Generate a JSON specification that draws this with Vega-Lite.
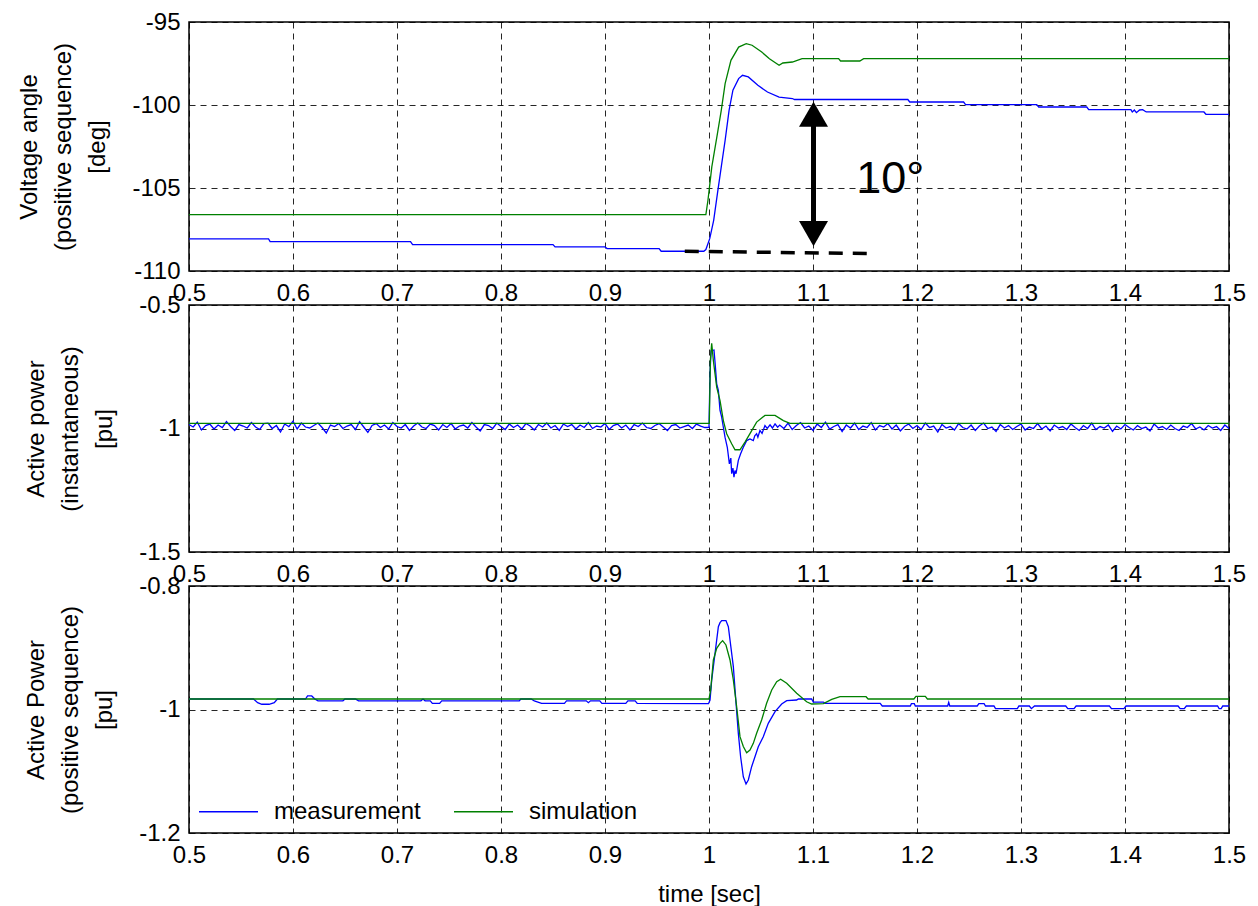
{
  "$schema": "https://vega.github.io/schema/vega-lite/v6.json",
  "padding": {"left": 17, "top": 9, "right": 20, "bottom": 0},
  "bounds": "flush",
  "spacing": 34,
  "config": {
    "view": {"stroke": "#000", "strokeWidth": 1.5},
    "font": "Liberation Sans",
    "axis": {
      "labelFont": "Liberation Sans", "labelFontSize": 24, "labelColor": "#000",
      "titleFont": "Liberation Sans", "titleFontSize": 24, "titleFontWeight": "normal", "titleColor": "#000",
      "domain": false, "ticks": false, "gridColor": "#000", "gridDash": [6, 5], "gridWidth": 1, "gridOpacity": 0.85,
      "labelPadding": 9, "labelFlush": false, "labelOverlap": false, "labelBound": false,
      "labelExpr": "replace(format(datum.value, '.1~f'), '\u2212', '-')"
    },
    "axisX": {"labelPadding": 10},
    "axisY": {"titleLineHeight": 34, "titlePadding": 22}
  },
  "resolve": {"scale": {"color": "independent"}, "legend": {"color": "independent"}},
  "datasets": {
    "p1m": [
      {"t":0.5,"v":-108.07},{"t":0.5765,"v":-108.07},{"t":0.578,"v":-108.23},{"t":0.713,"v":-108.23},{"t":0.715,"v":-108.41},
      {"t":0.85,"v":-108.41},{"t":0.852,"v":-108.55},{"t":0.9,"v":-108.55},{"t":0.902,"v":-108.65},{"t":0.952,"v":-108.65},
      {"t":0.954,"v":-108.81},{"t":0.995,"v":-108.81},{"t":0.997,"v":-108.71},{"t":1.0007,"v":-108.05},{"t":1.0045,"v":-106.95},
      {"t":1.0081,"v":-105.34},{"t":1.0118,"v":-103.73},{"t":1.0155,"v":-102.13},{"t":1.0193,"v":-100.32},{"t":1.023,"v":-99.11},
      {"t":1.0285,"v":-98.41},{"t":1.0322,"v":-98.21},{"t":1.0378,"v":-98.31},{"t":1.047,"v":-98.81},{"t":1.0562,"v":-99.22},
      {"t":1.0674,"v":-99.52},{"t":1.0802,"v":-99.61},{"t":1.0822,"v":-99.67},{"t":1.1912,"v":-99.67},{"t":1.193,"v":-99.82},
      {"t":1.2448,"v":-99.82},{"t":1.2467,"v":-99.98},{"t":1.3151,"v":-99.98},{"t":1.317,"v":-100.12},{"t":1.3632,"v":-100.12},
      {"t":1.3651,"v":-100.28},{"t":1.4057,"v":-100.28},{"t":1.407,"v":-100.42},{"t":1.409,"v":-100.3},{"t":1.411,"v":-100.46},
      {"t":1.414,"v":-100.3},{"t":1.417,"v":-100.28},{"t":1.4204,"v":-100.42},{"t":1.4759,"v":-100.42},{"t":1.4778,"v":-100.56},
      {"t":1.5,"v":-100.56}
    ],
    "p1s": [
      {"t":0.5,"v":-106.6},{"t":0.997,"v":-106.6},{"t":0.999,"v":-105.74},{"t":1.0027,"v":-103.73},{"t":1.0081,"v":-101.72},
      {"t":1.0118,"v":-100.32},{"t":1.0155,"v":-98.71},{"t":1.0211,"v":-97.31},{"t":1.0285,"v":-96.51},{"t":1.0358,"v":-96.3},
      {"t":1.0414,"v":-96.4},{"t":1.0507,"v":-96.81},{"t":1.0581,"v":-97.21},{"t":1.0674,"v":-97.61},{"t":1.071,"v":-97.47},
      {"t":1.0802,"v":-97.41},{"t":1.0895,"v":-97.21},{"t":1.1246,"v":-97.21},{"t":1.1265,"v":-97.35},{"t":1.145,"v":-97.35},
      {"t":1.1487,"v":-97.21},{"t":1.5,"v":-97.21}
    ],
    "p1dash": [{"t":0.9767,"v":-108.81,"t2":1.1543,"v2":-108.95}],
    "p1shaft": [{"t":1.1005,"v":-100.8,"v2":-107.5}],
    "p1up": [{"t":1.1005,"v":-100.56}],
    "p1down": [{"t":1.1005,"v":-107.75}],
    "p1text": [{"t":1.1743,"v":-105.3,"label":"10°"}],
    "p2m": [
      {"t":0.5,"v":-0.984},{"t":0.504,"v":-0.994},{"t":0.508,"v":-0.974},{"t":0.512,"v":-1.006},{"t":0.516,"v":-0.988},
      {"t":0.52,"v":-0.982},{"t":0.524,"v":-1.002},{"t":0.528,"v":-0.986},{"t":0.532,"v":-0.996},{"t":0.536,"v":-0.972},
      {"t":0.54,"v":-0.992},{"t":0.544,"v":-1.008},{"t":0.548,"v":-0.984},{"t":0.552,"v":-0.99},{"t":0.556,"v":-0.998},
      {"t":0.56,"v":-0.976},{"t":0.564,"v":-0.994},{"t":0.568,"v":-1.004},{"t":0.572,"v":-0.98},{"t":0.576,"v":-0.978},
      {"t":0.58,"v":-1.0},{"t":0.584,"v":-0.988},{"t":0.588,"v":-1.014},{"t":0.592,"v":-0.982},{"t":0.596,"v":-0.992},
      {"t":0.6,"v":-0.97},{"t":0.604,"v":-1.002},{"t":0.608,"v":-0.978},{"t":0.612,"v":-0.994},{"t":0.616,"v":-0.998},
      {"t":0.62,"v":-0.988},{"t":0.624,"v":-0.978},{"t":0.628,"v":-0.996},{"t":0.632,"v":-1.018},{"t":0.636,"v":-0.986},
      {"t":0.64,"v":-0.992},{"t":0.644,"v":-0.98},{"t":0.648,"v":-1.0},{"t":0.652,"v":-0.99},{"t":0.656,"v":-0.984},
      {"t":0.66,"v":-1.004},{"t":0.664,"v":-0.972},{"t":0.668,"v":-0.994},{"t":0.672,"v":-1.016},{"t":0.676,"v":-0.988},
      {"t":0.68,"v":-0.98},{"t":0.684,"v":-0.996},{"t":0.688,"v":-0.986},{"t":0.692,"v":-1.002},{"t":0.696,"v":-0.976},
      {"t":0.7,"v":-0.992},{"t":0.704,"v":-0.998},{"t":0.708,"v":-0.984},{"t":0.712,"v":-1.008},{"t":0.716,"v":-0.99},
      {"t":0.72,"v":-0.978},{"t":0.724,"v":-0.994},{"t":0.728,"v":-1.0},{"t":0.732,"v":-0.982},{"t":0.736,"v":-0.988},
      {"t":0.74,"v":-1.006},{"t":0.744,"v":-0.984},{"t":0.748,"v":-0.996},{"t":0.752,"v":-0.98},{"t":0.756,"v":-1.002},
      {"t":0.76,"v":-0.99},{"t":0.764,"v":-0.986},{"t":0.768,"v":-0.998},{"t":0.772,"v":-0.976},{"t":0.776,"v":-0.994},
      {"t":0.78,"v":-1.01},{"t":0.784,"v":-0.984},{"t":0.788,"v":-0.988},{"t":0.792,"v":-1.0},{"t":0.796,"v":-0.978},
      {"t":0.8,"v":-0.992},{"t":0.804,"v":-1.004},{"t":0.808,"v":-0.982},{"t":0.812,"v":-0.996},{"t":0.816,"v":-0.986},
      {"t":0.82,"v":-1.002},{"t":0.824,"v":-0.98},{"t":0.828,"v":-0.99},{"t":0.832,"v":-1.006},{"t":0.836,"v":-0.984},
      {"t":0.84,"v":-0.994},{"t":0.844,"v":-0.978},{"t":0.848,"v":-0.998},{"t":0.852,"v":-0.988},{"t":0.856,"v":-1.008},
      {"t":0.86,"v":-0.982},{"t":0.864,"v":-0.992},{"t":0.868,"v":-0.984},{"t":0.872,"v":-1.002},{"t":0.876,"v":-0.986},
      {"t":0.88,"v":-0.996},{"t":0.884,"v":-0.976},{"t":0.888,"v":-1.0},{"t":0.892,"v":-0.99},{"t":0.896,"v":-0.994},
      {"t":0.9,"v":-0.98},{"t":0.904,"v":-1.004},{"t":0.908,"v":-0.988},{"t":0.912,"v":-0.982},{"t":0.916,"v":-0.998},
      {"t":0.92,"v":-0.986},{"t":0.924,"v":-1.006},{"t":0.928,"v":-0.984},{"t":0.932,"v":-0.992},{"t":0.936,"v":-0.978},
      {"t":0.94,"v":-0.996},{"t":0.944,"v":-1.0},{"t":0.948,"v":-0.988},{"t":0.952,"v":-0.98},{"t":0.956,"v":-0.994},
      {"t":0.96,"v":-1.008},{"t":0.964,"v":-0.988},{"t":0.968,"v":-0.984},{"t":0.972,"v":-0.998},{"t":0.976,"v":-0.992},
      {"t":0.98,"v":-0.986},{"t":0.984,"v":-1.0},{"t":0.988,"v":-0.982},{"t":0.992,"v":-0.99},{"t":0.996,"v":-0.996},
      {"t":1.0,"v":-0.995},{"t":1.001,"v":-0.772},{"t":1.002,"v":-0.685},{"t":1.0048,"v":-0.682},{"t":1.0058,"v":-0.732},
      {"t":1.0074,"v":-0.819},{"t":1.009,"v":-0.846},{"t":1.0106,"v":-0.927},{"t":1.0122,"v":-0.954},{"t":1.0138,"v":-0.995},
      {"t":1.0154,"v":-1.035},{"t":1.0176,"v":-1.076},{"t":1.0196,"v":-1.143},{"t":1.021,"v":-1.12},{"t":1.0218,"v":-1.183},
      {"t":1.023,"v":-1.16},{"t":1.024,"v":-1.197},{"t":1.025,"v":-1.17},{"t":1.026,"v":-1.183},{"t":1.0282,"v":-1.129},
      {"t":1.0304,"v":-1.102},{"t":1.033,"v":-1.076},{"t":1.0362,"v":-1.049},{"t":1.0394,"v":-1.042},{"t":1.0426,"v":-1.049},
      {"t":1.044,"v":-1.03},{"t":1.0458,"v":-1.021},{"t":1.047,"v":-1.035},{"t":1.049,"v":-1.008},{"t":1.051,"v":-1.02},
      {"t":1.0538,"v":-0.988},{"t":1.056,"v":-1.0},{"t":1.0587,"v":-0.985},{"t":1.061,"v":-0.998},{"t":1.0635,"v":-0.981},
      {"t":1.066,"v":-0.995},
      {"t":1.068,"v":-0.986},{"t":1.072,"v":-1.0},{"t":1.076,"v":-0.978},{"t":1.08,"v":-1.004},{"t":1.084,"v":-0.988},
      {"t":1.088,"v":-0.976},{"t":1.092,"v":-0.998},{"t":1.096,"v":-0.99},{"t":1.1,"v":-1.008},{"t":1.104,"v":-0.982},
      {"t":1.108,"v":-0.996},{"t":1.112,"v":-0.974},{"t":1.116,"v":-1.002},{"t":1.12,"v":-0.992},{"t":1.124,"v":-0.984},
      {"t":1.128,"v":-1.012},{"t":1.132,"v":-0.986},{"t":1.136,"v":-0.998},{"t":1.14,"v":-0.978},{"t":1.144,"v":-1.004},
      {"t":1.148,"v":-0.99},{"t":1.152,"v":-0.996},{"t":1.156,"v":-0.976},{"t":1.16,"v":-1.006},{"t":1.164,"v":-0.988},
      {"t":1.168,"v":-0.994},{"t":1.172,"v":-0.98},{"t":1.176,"v":-1.002},{"t":1.18,"v":-0.986},{"t":1.184,"v":-1.01},
      {"t":1.188,"v":-0.992},{"t":1.192,"v":-0.982},{"t":1.196,"v":-1.0},{"t":1.2,"v":-0.988},{"t":1.204,"v":-1.004},
      {"t":1.208,"v":-0.978},{"t":1.212,"v":-0.996},{"t":1.216,"v":-0.99},{"t":1.22,"v":-1.014},{"t":1.224,"v":-0.984},
      {"t":1.228,"v":-0.998},{"t":1.232,"v":-0.992},{"t":1.236,"v":-1.006},{"t":1.24,"v":-0.98},{"t":1.244,"v":-0.996},
      {"t":1.248,"v":-1.002},{"t":1.252,"v":-0.986},{"t":1.256,"v":-1.008},{"t":1.26,"v":-0.99},{"t":1.264,"v":-0.978},
      {"t":1.268,"v":-1.0},{"t":1.272,"v":-0.994},{"t":1.276,"v":-1.012},{"t":1.28,"v":-0.984},{"t":1.284,"v":-0.998},
      {"t":1.288,"v":-0.988},{"t":1.292,"v":-1.004},{"t":1.296,"v":-0.992},{"t":1.3,"v":-0.982},{"t":1.304,"v":-1.006},
      {"t":1.308,"v":-0.994},{"t":1.312,"v":-1.0},{"t":1.316,"v":-0.98},{"t":1.32,"v":-1.002},{"t":1.324,"v":-0.99},
      {"t":1.328,"v":-1.01},{"t":1.332,"v":-0.986},{"t":1.336,"v":-0.998},{"t":1.34,"v":-0.992},{"t":1.344,"v":-1.004},
      {"t":1.348,"v":-0.982},{"t":1.352,"v":-0.996},{"t":1.356,"v":-1.008},{"t":1.36,"v":-0.988},{"t":1.364,"v":-1.0},
      {"t":1.368,"v":-0.978},{"t":1.372,"v":-1.004},{"t":1.376,"v":-0.992},{"t":1.38,"v":-0.998},{"t":1.384,"v":-0.986},
      {"t":1.388,"v":-1.012},{"t":1.392,"v":-0.99},{"t":1.396,"v":-1.002},{"t":1.4,"v":-0.984},{"t":1.404,"v":-0.996},
      {"t":1.408,"v":-1.006},{"t":1.412,"v":-0.988},{"t":1.416,"v":-1.0},{"t":1.42,"v":-0.994},{"t":1.424,"v":-1.01},
      {"t":1.428,"v":-0.982},{"t":1.432,"v":-0.998},{"t":1.436,"v":-0.992},{"t":1.44,"v":-1.004},{"t":1.444,"v":-0.986},
      {"t":1.448,"v":-1.0},{"t":1.452,"v":-1.008},{"t":1.456,"v":-0.99},{"t":1.46,"v":-0.996},{"t":1.464,"v":-0.98},
      {"t":1.468,"v":-1.002},{"t":1.472,"v":-0.994},{"t":1.476,"v":-1.006},{"t":1.48,"v":-0.988},{"t":1.484,"v":-0.998},
      {"t":1.488,"v":-0.992},{"t":1.492,"v":-1.008},{"t":1.496,"v":-0.986},{"t":1.5,"v":-1.0}
    ],
    "p2s": [
      {"t":0.5,"v":-0.979},{"t":1.0003,"v":-0.979},{"t":1.0013,"v":-0.725},{"t":1.0026,"v":-0.655},{"t":1.0042,"v":-0.725},
      {"t":1.0074,"v":-0.833},{"t":1.0106,"v":-0.887},{"t":1.0138,"v":-0.968},{"t":1.017,"v":-1.021},{"t":1.0218,"v":-1.062},
      {"t":1.025,"v":-1.086},{"t":1.0298,"v":-1.086},{"t":1.0346,"v":-1.055},{"t":1.0394,"v":-1.021},{"t":1.0458,"v":-0.974},
      {"t":1.0538,"v":-0.947},{"t":1.0635,"v":-0.947},{"t":1.0715,"v":-0.968},{"t":1.0779,"v":-0.979},{"t":1.5,"v":-0.979}
    ],
    "p3m": [
      {"t":0.5,"v":-0.983},{"t":0.562,"v":-0.983},{"t":0.566,"v":-0.989},{"t":0.57,"v":-0.9915},{"t":0.577,"v":-0.9915},
      {"t":0.582,"v":-0.989},{"t":0.585,"v":-0.983},{"t":0.612,"v":-0.983},{"t":0.614,"v":-0.978},{"t":0.618,"v":-0.978},
      {"t":0.621,"v":-0.983},{"t":0.624,"v":-0.986},{"t":0.648,"v":-0.986},{"t":0.65,"v":-0.983},{"t":0.66,"v":-0.983},
      {"t":0.663,"v":-0.986},{"t":0.723,"v":-0.986},{"t":0.725,"v":-0.983},{"t":0.727,"v":-0.986},{"t":0.732,"v":-0.986},
      {"t":0.734,"v":-0.99},{"t":0.741,"v":-0.99},{"t":0.743,"v":-0.986},{"t":0.8176,"v":-0.986},{"t":0.819,"v":-0.983},
      {"t":0.829,"v":-0.983},{"t":0.832,"v":-0.986},{"t":0.839,"v":-0.99},{"t":0.861,"v":-0.99},{"t":0.863,"v":-0.986},
      {"t":0.882,"v":-0.986},{"t":0.884,"v":-0.989},{"t":0.886,"v":-0.986},{"t":0.895,"v":-0.986},{"t":0.897,"v":-0.99},
      {"t":0.92,"v":-0.99},{"t":0.922,"v":-0.986},{"t":0.929,"v":-0.986},{"t":0.931,"v":-0.99},{"t":0.9995,"v":-0.9906},
      {"t":1.001,"v":-0.9846},{"t":1.0026,"v":-0.9522},{"t":1.009,"v":-0.866},{"t":1.0106,"v":-0.8594},{"t":1.0122,"v":-0.856},
      {"t":1.0163,"v":-0.856},{"t":1.0186,"v":-0.866},{"t":1.0202,"v":-0.8875},{"t":1.0234,"v":-0.9306},{"t":1.026,"v":-0.99},
      {"t":1.0282,"v":-1.0386},{"t":1.0304,"v":-1.0765},{"t":1.033,"v":-1.1089},{"t":1.0356,"v":-1.1207},{"t":1.0378,"v":-1.1142},
      {"t":1.041,"v":-1.0926},{"t":1.0442,"v":-1.0765},{"t":1.0474,"v":-1.0603},{"t":1.0522,"v":-1.044},{"t":1.057,"v":-1.0224},
      {"t":1.0635,"v":-1.0035},{"t":1.0699,"v":-0.9911},{"t":1.0747,"v":-0.9857},{"t":1.0843,"v":-0.9846},{"t":1.0859,"v":-0.983},
      {"t":1.0987,"v":-0.983},{"t":1.1003,"v":-0.9879},{"t":1.11,"v":-0.9879},{"t":1.1115,"v":-0.99},{"t":1.1646,"v":-0.99},
      {"t":1.1666,"v":-0.9943},{"t":1.1936,"v":-0.9943},{"t":1.1946,"v":-0.9906},{"t":1.1974,"v":-0.9906},{"t":1.1984,"v":-0.9943},
      {"t":1.2295,"v":-0.9943},{"t":1.2305,"v":-0.9885},{"t":1.2315,"v":-0.9943},{"t":1.2579,"v":-0.9943},{"t":1.2595,"v":-0.9906},
      {"t":1.2645,"v":-0.9906},{"t":1.2659,"v":-0.9943},{"t":1.274,"v":-0.9943},{"t":1.2755,"v":-0.9986},{"t":1.2965,"v":-0.9986},
      {"t":1.298,"v":-0.9943},{"t":1.308,"v":-0.9943},{"t":1.31,"v":-0.9986},{"t":1.313,"v":-0.9943},{"t":1.343,"v":-0.9943},
      {"t":1.345,"v":-0.9986},{"t":1.351,"v":-0.9986},{"t":1.353,"v":-0.9943},{"t":1.385,"v":-0.9943},{"t":1.387,"v":-0.9986},
      {"t":1.399,"v":-0.9986},{"t":1.401,"v":-0.9943},{"t":1.451,"v":-0.9943},{"t":1.453,"v":-0.9986},{"t":1.457,"v":-0.9986},
      {"t":1.459,"v":-0.9943},{"t":1.489,"v":-0.9943},{"t":1.4905,"v":-0.9986},{"t":1.4925,"v":-0.9986},{"t":1.494,"v":-0.9943},
      {"t":1.5,"v":-0.9943}
    ],
    "p3s": [
      {"t":0.5,"v":-0.983},{"t":1.0,"v":-0.983},{"t":1.0016,"v":-0.9684},{"t":1.0042,"v":-0.9198},{"t":1.0074,"v":-0.901},
      {"t":1.0106,"v":-0.8928},{"t":1.0131,"v":-0.8885},{"t":1.0163,"v":-0.8955},{"t":1.0202,"v":-0.9198},{"t":1.0234,"v":-0.9522},
      {"t":1.0266,"v":-0.9955},{"t":1.0298,"v":-1.044},{"t":1.033,"v":-1.06},{"t":1.0362,"v":-1.07},{"t":1.0394,"v":-1.0656},
      {"t":1.0426,"v":-1.0548},{"t":1.0458,"v":-1.0386},{"t":1.0506,"v":-1.017},{"t":1.0554,"v":-0.99},{"t":1.0603,"v":-0.9684},
      {"t":1.0651,"v":-0.955},{"t":1.0689,"v":-0.951},{"t":1.0747,"v":-0.9576},{"t":1.0843,"v":-0.9738},{"t":1.0939,"v":-0.9874},
      {"t":1.0987,"v":-0.9911},{"t":1.11,"v":-0.9906},{"t":1.118,"v":-0.9835},{"t":1.126,"v":-0.9793},{"t":1.151,"v":-0.9793},
      {"t":1.153,"v":-0.983},{"t":1.197,"v":-0.983},{"t":1.199,"v":-0.9788},{"t":1.208,"v":-0.9788},{"t":1.21,"v":-0.983},
      {"t":1.5,"v":-0.983}
    ]
  },
  "vconcat": [
    {
      "width": 1040, "height": 249,
      "layer": [
        {
          "data": {"name": "p1m"},
          "mark": {"type": "line", "strokeWidth": 1.3},
          "encoding": {
            "x": {"field": "t", "type": "quantitative", "scale": {"domain": [0.5, 1.5], "nice": false, "zero": false},
                  "axis": {"values": [0.5,0.6,0.7,0.8,0.9,1,1.1,1.2,1.3,1.4,1.5], "title": null}},
            "y": {"field": "v", "type": "quantitative", "scale": {"domain": [-110, -95], "nice": false, "zero": false},
                  "axis": {"values": [-95,-100,-105,-110], "title": ["Voltage angle", "(positive sequence)", "[deg]"]}},
            "color": {"datum": "measurement", "scale": {"domain": ["measurement","simulation"], "range": ["#0000ff","#008000"]}, "legend": null}
          }
        },
        {
          "data": {"name": "p1s"},
          "mark": {"type": "line", "strokeWidth": 1.3},
          "encoding": {
            "x": {"field": "t", "type": "quantitative"},
            "y": {"field": "v", "type": "quantitative"},
            "color": {"datum": "simulation"}
          }
        },
        {
          "data": {"name": "p1dash"},
          "mark": {"type": "rule", "color": "#000", "strokeWidth": 3.5, "strokeDash": [14, 10]},
          "encoding": {
            "x": {"field": "t", "type": "quantitative"}, "x2": {"field": "t2"},
            "y": {"field": "v", "type": "quantitative"}, "y2": {"field": "v2"}
          }
        },
        {
          "data": {"name": "p1shaft"},
          "mark": {"type": "rule", "color": "#000", "strokeWidth": 5},
          "encoding": {
            "x": {"field": "t", "type": "quantitative"},
            "y": {"field": "v", "type": "quantitative"}, "y2": {"field": "v2"}
          }
        },
        {
          "data": {"name": "p1up"},
          "mark": {"type": "point", "shape": "triangle-up", "filled": true, "color": "#000", "size": 840, "opacity": 1},
          "encoding": {"x": {"field": "t", "type": "quantitative"}, "y": {"field": "v", "type": "quantitative"}}
        },
        {
          "data": {"name": "p1down"},
          "mark": {"type": "point", "shape": "triangle-down", "filled": true, "color": "#000", "size": 840, "opacity": 1},
          "encoding": {"x": {"field": "t", "type": "quantitative"}, "y": {"field": "v", "type": "quantitative"}}
        },
        {
          "data": {"name": "p1text"},
          "mark": {"type": "text", "font": "Liberation Sans", "fontSize": 45, "color": "#000", "align": "center", "baseline": "alphabetic"},
          "encoding": {"x": {"field": "t", "type": "quantitative"}, "y": {"field": "v", "type": "quantitative"}, "text": {"field": "label"}}
        }
      ]
    },
    {
      "width": 1040, "height": 247,
      "layer": [
        {
          "data": {"name": "p2m"},
          "mark": {"type": "line", "strokeWidth": 1.3},
          "encoding": {
            "x": {"field": "t", "type": "quantitative", "scale": {"domain": [0.5, 1.5], "nice": false, "zero": false},
                  "axis": {"values": [0.5,0.6,0.7,0.8,0.9,1,1.1,1.2,1.3,1.4,1.5], "title": null}},
            "y": {"field": "v", "type": "quantitative", "scale": {"domain": [-1.5, -0.5], "nice": false, "zero": false},
                  "axis": {"values": [-0.5,-1,-1.5], "title": ["Active power", "(instantaneous)", "[pu]"]}},
            "color": {"datum": "measurement", "scale": {"domain": ["measurement","simulation"], "range": ["#0000ff","#008000"]}, "legend": null}
          }
        },
        {
          "data": {"name": "p2s"},
          "mark": {"type": "line", "strokeWidth": 1.3},
          "encoding": {
            "x": {"field": "t", "type": "quantitative"},
            "y": {"field": "v", "type": "quantitative"},
            "color": {"datum": "simulation"}
          }
        }
      ]
    },
    {
      "width": 1040, "height": 247,
      "layer": [
        {
          "data": {"name": "p3m"},
          "mark": {"type": "line", "strokeWidth": 1.3},
          "encoding": {
            "x": {"field": "t", "type": "quantitative", "scale": {"domain": [0.5, 1.5], "nice": false, "zero": false},
                  "axis": {"values": [0.5,0.6,0.7,0.8,0.9,1,1.1,1.2,1.3,1.4,1.5], "title": "time [sec]", "titlePadding": 15}},
            "y": {"field": "v", "type": "quantitative", "scale": {"domain": [-1.2, -0.8], "nice": false, "zero": false},
                  "axis": {"values": [-0.8,-1,-1.2], "title": ["Active Power", "(positive sequence)", "[pu]"]}},
            "color": {"datum": "measurement", "scale": {"domain": ["measurement","simulation"], "range": ["#0000ff","#008000"]},
                      "legend": {"orient": "bottom-left", "direction": "horizontal", "title": null, "symbolType": "stroke",
                                 "symbolSize": 3481, "symbolStrokeWidth": 1.3, "labelFont": "Liberation Sans", "labelFontSize": 24,
                                 "labelColor": "#000", "labelOffset": 15, "columnPadding": 30, "offset": 9, "padding": 0, "labelLimit": 300}}
          }
        },
        {
          "data": {"name": "p3s"},
          "mark": {"type": "line", "strokeWidth": 1.3},
          "encoding": {
            "x": {"field": "t", "type": "quantitative"},
            "y": {"field": "v", "type": "quantitative"},
            "color": {"datum": "simulation"}
          }
        }
      ]
    }
  ]
}
